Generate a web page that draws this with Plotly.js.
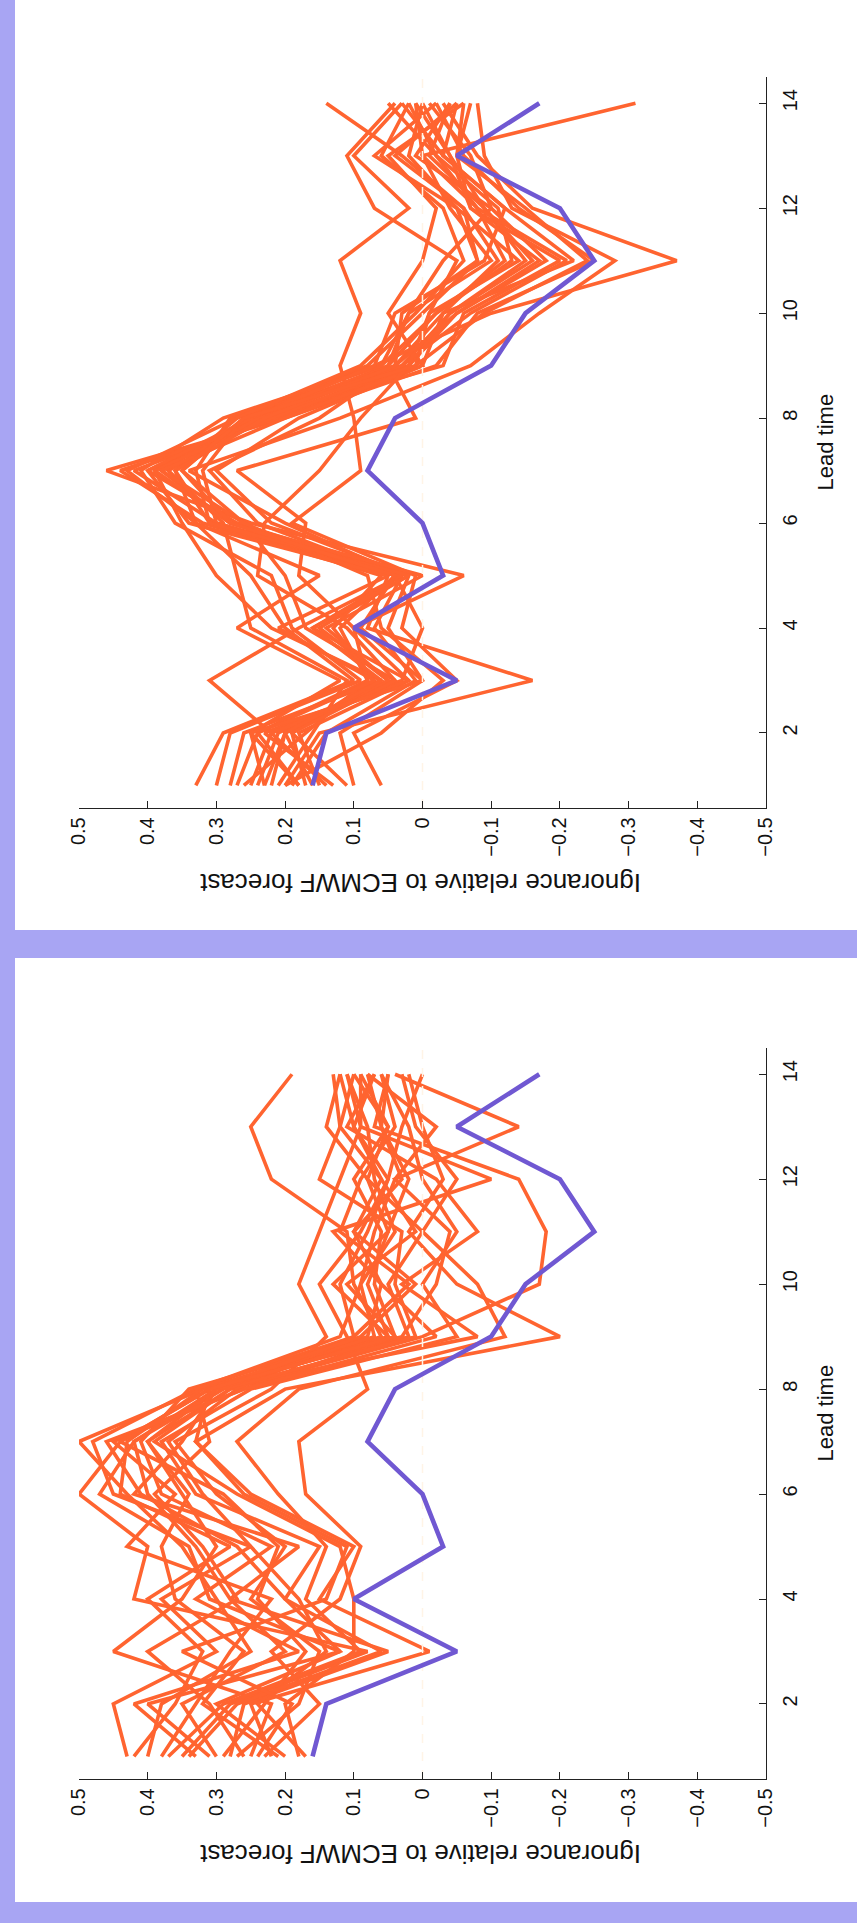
<!DOCTYPE html>
<html><head><meta charset="utf-8">
<script src="https://cdn.plot.ly/plotly-3.0.1.min.js"></script>
<style>
html,body{margin:0;padding:0;background:#a8a5f3;width:857px;height:1923px;overflow:hidden;}
.panel{position:absolute;left:15px;width:842px;background:#ffffff;}
#p1{top:0;height:930px;}
#p2{top:958px;height:944px;}
</style></head><body>
<div id="p1" class="panel"></div>
<div id="p2" class="panel"></div>
<script>
const leadTime = [1,2,3,4,5,6,7,8,9,10,11,12,13,14];
const referenceModel = [0.16,0.14,-0.05,0.10,-0.03,0.00,0.08,0.04,-0.10,-0.15,-0.25,-0.20,-0.05,-0.17];

const topPanelSeries = [
  [0.22,0.20,0.05,0.15,0.02,0.28,0.38,0.25,0.05,-0.02,-0.12,-0.08,-0.02,0.02],
  [0.18,0.24,0.08,0.12,0.04,0.30,0.42,0.22,0.02,-0.05,-0.18,-0.10,0.01,-0.04],
  [0.33,0.29,0.10,0.20,0.25,0.33,0.36,0.27,0.08,0.00,-0.08,-0.06,0.03,0.14],
  [0.25,0.22,0.31,0.18,0.03,0.27,0.40,0.23,0.04,-0.03,-0.22,-0.12,-0.03,-0.05],
  [0.15,0.18,0.02,0.10,-0.06,0.25,0.46,0.20,-0.02,-0.08,-0.25,-0.14,-0.06,-0.02],
  [0.20,0.15,-0.16,0.08,0.05,0.31,0.33,0.28,0.06,0.02,-0.10,-0.04,0.00,-0.31],
  [0.28,0.26,0.06,0.22,0.30,0.35,0.39,0.24,0.03,-0.04,-0.15,-0.09,-0.04,0.01],
  [0.10,0.12,0.00,0.05,0.02,0.22,0.30,0.18,0.00,0.05,0.00,-0.02,0.05,-0.06],
  [0.06,0.10,-0.05,0.03,0.01,0.19,0.09,0.10,0.12,0.09,0.12,0.02,0.10,0.03],
  [0.24,0.21,0.04,0.17,0.20,0.26,0.35,0.26,0.07,-0.10,-0.37,-0.16,-0.08,-0.03],
  [0.17,0.19,0.07,0.13,0.06,0.32,0.44,0.21,0.01,-0.01,-0.05,0.07,0.11,0.04],
  [0.21,0.16,0.11,0.25,0.27,0.29,0.37,0.24,-0.03,-0.06,-0.20,-0.07,-0.05,-0.07],
  [0.13,0.23,0.03,0.00,0.04,0.24,0.31,0.15,0.04,0.03,-0.08,-0.05,0.02,0.00],
  [0.30,0.28,0.09,0.19,0.22,0.36,0.41,0.29,0.06,-0.02,-0.13,-0.11,-0.02,0.05],
  [0.19,0.14,0.01,0.07,0.03,0.20,0.34,0.12,-0.07,-0.17,-0.28,-0.13,-0.09,-0.08],
  [0.23,0.25,0.12,0.27,0.15,0.33,0.43,0.27,0.09,0.01,-0.06,-0.03,0.06,0.02],
  [0.16,0.20,0.05,0.14,0.00,0.28,0.39,0.22,0.02,-0.04,-0.16,-0.09,-0.01,-0.04],
  [0.26,0.17,0.08,0.10,0.18,0.17,0.27,0.01,0.05,0.02,-0.03,-0.10,-0.07,-0.01],
  [0.14,0.22,0.02,0.16,0.03,0.30,0.32,0.26,0.03,-0.07,-0.21,-0.08,0.00,0.01],
  [0.20,0.06,-0.03,0.06,0.08,0.26,0.38,0.20,0.00,-0.03,-0.11,-0.06,0.04,-0.05],
  [0.27,0.24,0.07,0.21,0.05,0.34,0.40,0.25,0.07,0.04,-0.09,-0.12,-0.03,0.03],
  [0.11,0.19,0.04,0.11,0.24,0.23,0.15,0.09,0.02,-0.01,-0.14,-0.05,0.07,-0.02],
  [0.23,0.20,0.06,0.16,0.02,0.31,0.36,0.23,0.04,-0.05,-0.17,-0.07,-0.04,0.00],
  [0.18,0.25,0.00,0.09,0.04,0.28,0.35,0.26,0.01,-0.09,-0.24,-0.15,-0.05,-0.06]
];

const bottomPanelSeries = [
  [0.30,0.35,0.20,0.28,0.33,0.40,0.42,0.30,0.05,0.08,0.05,0.02,0.06,0.08],
  [0.43,0.45,0.30,0.38,0.25,0.45,0.48,0.33,0.10,0.12,0.08,0.05,0.10,0.12],
  [0.25,0.22,0.45,0.35,0.30,0.35,0.40,0.28,0.02,0.05,0.00,0.08,0.05,0.10],
  [0.20,0.30,0.12,0.20,0.15,0.33,0.38,0.25,-0.05,0.00,-0.05,0.00,0.02,0.06],
  [0.35,0.28,0.08,0.42,0.40,0.50,0.44,0.31,0.06,0.10,0.11,0.22,0.25,0.19],
  [0.27,0.18,0.15,0.25,0.20,0.30,0.36,0.22,0.14,0.18,0.15,0.12,0.09,0.11],
  [0.40,0.38,0.25,0.30,0.35,0.43,0.50,0.32,0.03,-0.02,-0.04,0.04,-0.14,0.04],
  [0.22,0.25,-0.01,0.15,0.10,0.25,0.33,0.20,-0.20,-0.05,0.02,-0.03,0.00,0.02],
  [0.33,0.42,0.18,0.33,0.22,0.38,0.41,0.34,0.08,0.06,0.10,0.06,0.12,0.13],
  [0.18,0.20,0.10,0.10,0.12,0.27,0.39,0.28,0.00,-0.17,-0.18,-0.14,0.07,0.05],
  [0.38,0.33,0.28,0.22,0.43,0.36,0.45,0.26,0.04,0.07,0.06,0.10,0.05,0.09],
  [0.28,0.26,0.05,0.28,0.18,0.42,0.35,0.30,-0.08,0.03,-0.08,-0.02,0.11,0.07],
  [0.23,0.15,0.22,0.12,0.09,0.17,0.18,0.08,0.11,0.15,0.09,0.05,0.03,0.00],
  [0.42,0.36,0.32,0.40,0.28,0.44,0.43,0.32,0.07,0.09,0.04,0.07,0.08,0.11],
  [0.17,0.24,0.14,0.18,0.25,0.32,0.37,0.27,0.10,0.02,0.12,0.09,0.04,0.06],
  [0.31,0.40,0.12,0.31,0.34,0.47,0.42,0.29,0.01,0.04,0.03,0.15,0.12,0.10],
  [0.26,0.31,0.40,0.27,0.32,0.39,0.31,0.33,0.12,0.09,0.07,0.04,-0.02,0.08],
  [0.37,0.29,0.09,0.17,0.14,0.21,0.27,0.18,-0.12,-0.08,0.00,-0.05,0.01,0.03],
  [0.21,0.32,0.26,0.36,0.38,0.34,0.40,0.30,0.05,0.13,0.05,0.08,0.14,0.12],
  [0.29,0.23,0.17,0.24,0.21,0.29,0.44,0.31,0.09,0.01,0.10,0.03,0.06,0.05],
  [0.34,0.27,0.06,0.20,0.27,0.41,0.46,0.26,-0.02,0.06,0.13,-0.10,0.09,0.09],
  [0.24,0.19,0.35,0.14,0.11,0.26,0.33,0.31,0.04,0.11,0.01,0.06,0.10,0.07]
];

const valueTicks = [0.5,0.4,0.3,0.2,0.1,0,-0.1,-0.2,-0.3,-0.4,-0.5];
const leadTicks = [2,4,6,8,10,12,14];
const zeroLine = [0,0];
const leadSpan = [0.57,14.5];
const valueTitle = 'Ignorance relative to ECMWF forecast';
const leadTitle = 'Lead time';

const FONT = 'Liberation Sans, Arial, Helvetica, sans-serif';
const ORANGE = '#ff6430';
const PURPLE = '#7058d2';

function tickText(v){
  if (v === 0) return '0';
  return (v < 0 ? '\u2212' : '') + Math.abs(v).toFixed(1);
}

function draw(id, series, height, mt, mb){
  const traces = series.map(s => ({
    x: s, y: leadTime, type: 'scatter', mode: 'lines',
    line: {color: ORANGE, width: 3.6}, hoverinfo: 'skip', showlegend: false
  }));
  traces.push({x: zeroLine, y: leadSpan, type: 'scatter', mode: 'lines',
    line: {color: '#fff4e6', width: 1.5, dash: 'dash'}, hoverinfo: 'skip', showlegend: false});
  traces.push({x: referenceModel, y: leadTime, type: 'scatter', mode: 'lines',
    line: {color: PURPLE, width: 4.6}, hoverinfo: 'skip', showlegend: false});
  const layout = {
    width: 842, height: height,
    margin: {l: 64, r: 91, t: mt, b: mb},
    paper_bgcolor: 'rgba(0,0,0,0)', plot_bgcolor: 'rgba(0,0,0,0)',
    font: {family: FONT, color: '#111', size: 20},
    showlegend: false,
    xaxis: {
      range: [0.5, -0.5], tickmode: 'array', tickvals: valueTicks,
      ticktext: valueTicks.map(tickText), tickangle: -90,
      ticks: 'inside', ticklen: 7, tickcolor: '#222', tickwidth: 1,
      showline: true, linecolor: '#222', linewidth: 1.3,
      showgrid: false, zeroline: false, mirror: false,
      tickfont: {family: FONT, size: 20, color: '#111'}
    },
    yaxis: {
      range: leadSpan, side: 'right', tickmode: 'array', tickvals: leadTicks,
      ticktext: leadTicks.map(String), tickangle: -90,
      ticks: 'inside', ticklen: 7, tickcolor: '#222', tickwidth: 1,
      showline: true, linecolor: '#222', linewidth: 1.3,
      showgrid: false, zeroline: false, mirror: false,
      ticklabelstandoff: 6,
      tickfont: {family: FONT, size: 20, color: '#111'}
    },
    annotations: [
      {text: valueTitle, xref: 'paper', yref: 'paper', x: 0.497, y: -75/731,
       xanchor: 'center', yanchor: 'middle', textangle: 180, showarrow: false,
       font: {family: FONT, size: 26, color: '#111'}},
      {text: leadTitle, xref: 'paper', yref: 'paper', x: 1 + 59/687, y: 0.5,
       xanchor: 'center', yanchor: 'middle', textangle: -90, showarrow: false,
       font: {family: FONT, size: 22, color: '#111'}}
    ]
  };
  Plotly.newPlot(id, traces, layout, {staticPlot: true, displayModeBar: false});
}

draw('p1', topPanelSeries, 930, 77, 122);
draw('p2', bottomPanelSeries, 944, 90, 123);
</script>
</body></html>
